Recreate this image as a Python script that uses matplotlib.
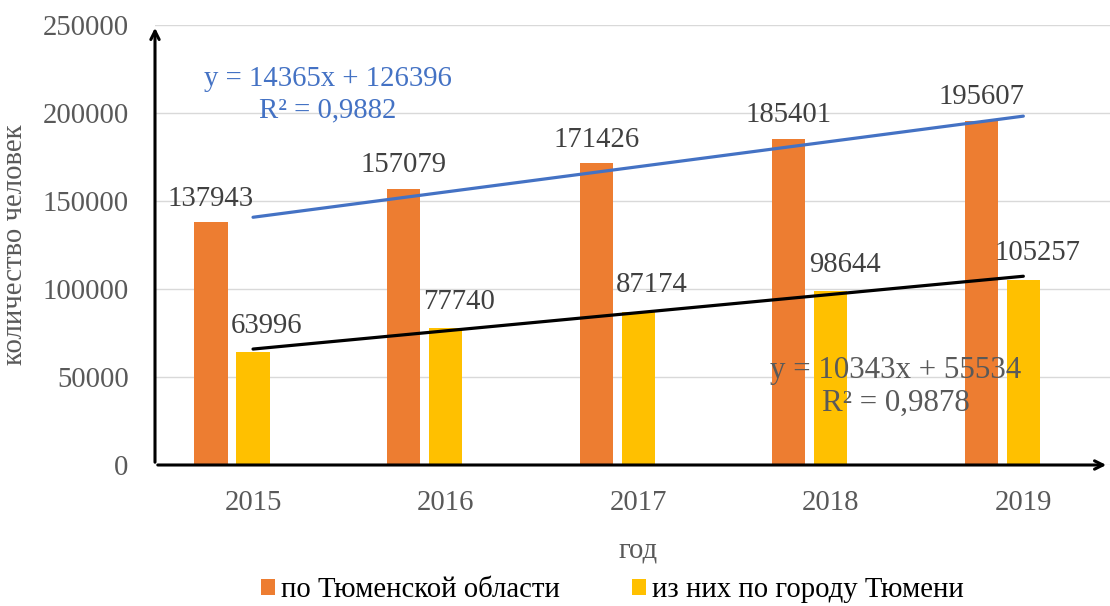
import matplotlib.pyplot as plt
import numpy as np

# data
years = ['2015', '2016', '2017', '2018', '2019']
region = [137943, 157079, 171426, 185401, 195607]
city = [63996, 77740, 87174, 98644, 105257]
region_name = 'по Тюменской области'
city_name = 'из них по городу Тюмени'
region_eq = 'y = 14365x + 126396\nR² = 0,9882'
city_eq = 'y = 10343x + 55534\nR² = 0,9878'

plt.rcParams['font.family'] = ['Liberation Serif', 'DejaVu Serif']

orange = '#ED7D31'
yellow = '#FFC000'
grey_txt = '#595959'
fs = 20.7

fig = plt.figure(figsize=(11.1, 6.06), dpi=100)
ax = fig.add_axes([155 / 1110, 1 - 465 / 606, (1110 - 155) / 1110, (465 - 25) / 606])

x = np.arange(len(years))
w = 0.172
ax.bar(x - 0.218, region, w, color=orange, label=region_name, zorder=2)
ax.bar(x, city, w, color=yellow, label=city_name, zorder=2)

# linear trendlines (x = 1..5 as in Excel)
t = x + 1
k1, b1 = np.polyfit(t, region, 1)
k2, b2 = np.polyfit(t, city, 1)
ax.plot(x, k1 * t + b1, color='#4472C4', lw=2.3, zorder=3, solid_capstyle='round')
ax.plot(x, k2 * t + b2, color='black', lw=2.3, zorder=3, solid_capstyle='round')

# data labels
for xi, v in zip(x, region):
    ax.annotate(str(v), (xi - 0.218, v), xytext=(0, 12), textcoords='offset points',
                ha='center', va='baseline', fontsize=fs, color='#404040', zorder=4)
for xi, v in zip(x, city):
    ax.annotate(str(v), (xi, v), xytext=(10, 14), textcoords='offset points',
                ha='center', va='baseline', fontsize=fs, color='#404040', zorder=4)

ax.text(0.181, 0.842, region_eq, transform=ax.transAxes, ha='center', va='center',
        fontsize=fs, color='#4472C4', linespacing=1.25, zorder=5)
ax.text(0.776, 0.177, city_eq, transform=ax.transAxes, ha='center', va='center',
        fontsize=22.3, color=grey_txt, linespacing=1.15, zorder=5)

ax.set_xlim(-0.509, 4.45)
ax.set_ylim(0, 250000)
ax.set_yticks(np.arange(0, 250001, 50000))
ax.set_xticks(x)
ax.set_xticklabels(years)
ax.grid(axis='y', color='#D9D9D9', lw=1, zorder=0)
ax.tick_params(length=0, labelsize=fs, labelcolor=grey_txt)
ax.tick_params(axis='y', pad=19)
ax.tick_params(axis='x', pad=18)
for s in ax.spines.values():
    s.set_visible(False)

# axes drawn as arrows
ax.annotate('', xy=(0, 1.0), xytext=(0, 0), xycoords='axes fraction',
            arrowprops=dict(arrowstyle='->,head_length=0.6,head_width=0.3', lw=2.2, color='black'),
            annotation_clip=False)
ax.annotate('', xy=(0.999, 0), xytext=(0, 0), xycoords='axes fraction',
            arrowprops=dict(arrowstyle='->,head_length=0.6,head_width=0.3', lw=2.2, color='black'),
            annotation_clip=False)

ax.set_ylabel('количество человек', fontsize=fs, color=grey_txt)
ax.yaxis.set_label_coords(-0.133, 0.5)
ax.set_xlabel('год', fontsize=fs, color=grey_txt)
ax.xaxis.set_label_coords(0.506, -0.165)

ax.legend(loc='center', bbox_to_anchor=(0.479, -0.285), ncol=2, frameon=False,
          fontsize=fs, labelcolor='black', handlelength=0.5, handleheight=0.5,
          handletextpad=0.2, columnspacing=2.5)

fig.savefig('out.png', dpi=100)
